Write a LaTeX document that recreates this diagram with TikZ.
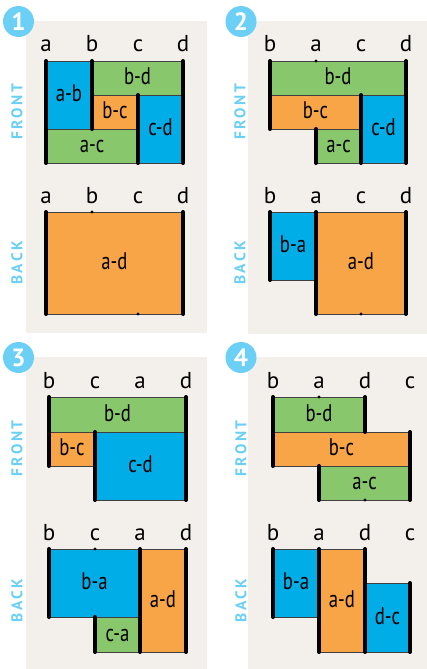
\documentclass[tikz,border=0pt]{standalone}
\usepackage{fontspec}
\setmainfont{PT Sans}
\newfontfamily\condfont[FakeStretch=0.78]{PT Sans}
\newfontfamily\tagfont[LetterSpace=16]{PT Sans Bold}
\definecolor{cblue}{HTML}{00ADE6}
\definecolor{cgreen}{HTML}{88C76C}
\definecolor{corange}{HTML}{F8A547}
\definecolor{cbeige}{HTML}{F3F0EB}
\definecolor{clight}{HTML}{6CCFF6}
\definecolor{cedge}{HTML}{404040}
\tikzset{
  boxline/.style={draw=cedge, line width=0.9pt},
  lbl/.style={anchor=base, inner sep=0pt, font=\condfont\fontsize{24}{24}\selectfont, text=black},
  collbl/.style={anchor=base, inner sep=0pt, font=\fontsize{23}{23}\selectfont, text=black},
  heavy/.style={line width=4pt, line cap=round, black},
  tagtext/.style={rotate=90, inner sep=0pt, text=clight, font=\tagfont\fontsize{15.5}{15.5}\selectfont},
  numdisc/.style={circle, fill=clight, minimum size=31pt, inner sep=0pt, text=white, font=\bfseries\fontsize{25}{25}\selectfont},
  panel/.style={fill=cbeige}
}
\newcommand\mybox[7]{%
  \draw[boxline, fill=#1] (#2,#3) rectangle (#4,#5);
  \node[lbl] (#7) at ({(#2+#4)/2},{(#3+#5)/2+6.5}) {#6};}
\newcommand\tline[3]{\draw[heavy] (#1,#2) -- (#1,#3);}
\newcommand\tmark[2]{\fill[black] (#1,#2) circle (1.6pt);}
\begin{document}
\begin{tikzpicture}[x=1pt,y=-1pt]
\useasboundingbox (0,0) rectangle (427,669);
% panels
\fill[panel] (26,21) rectangle (207,333);
\fill[panel] (248,21) rectangle (427,334);
\fill[panel] (26,357) rectangle (207,669);
\fill[panel] (248,357) rectangle (427,669);
\node[numdisc] (n1) at (18.5,21.5) {1};
\node[numdisc] (n2) at (241,21.5) {2};
\node[numdisc] (n3) at (18.5,357.5) {3};
\node[numdisc] (n4) at (241,357.5) {4};
% tags
\node[tagtext] (f1) at (17,112) {FRONT};
\node[tagtext] (b1) at (17,263) {BACK};
\node[tagtext] (f2) at (240,112) {FRONT};
\node[tagtext] (b2) at (240,263) {BACK};
\node[tagtext] (f3) at (17,448.5) {FRONT};
\node[tagtext] (b3) at (17,600.5) {BACK};
\node[tagtext] (f4) at (241,448.5) {FRONT};
\node[tagtext] (b4) at (241,600.5) {BACK};
%================ panel 1
\node[collbl] (p1fa) at (46,52) {a};
\node[collbl] (p1fb) at (92,52) {b};
\node[collbl] (p1fc) at (138,52) {c};
\node[collbl] (p1fd) at (183,52) {d};
\mybox{cblue}{46}{61}{92}{129}{a-b}{p1ab}
\mybox{cgreen}{92}{61}{183}{95}{b-d}{p1bd}
\mybox{corange}{92}{95}{138}{129}{b-c}{p1bc}
\mybox{cblue}{138}{95}{183}{163}{c-d}{p1cd}
\mybox{cgreen}{46}{129}{138}{163}{a-c}{p1ac}
\tline{46}{61}{163}
\tline{92}{61}{129}
\tline{138}{95}{163}
\tline{183}{61}{163}
\node[collbl] (p1ba) at (46,203) {a};
\node[collbl] (p1bb) at (92,203) {b};
\node[collbl] (p1bc) at (138,203) {c};
\node[collbl] (p1bdd) at (183,203) {d};
\mybox{corange}{46}{212}{183}{314}{a-d}{p1ad}
\tline{46}{212}{314}
\tline{183}{212}{314}
\tmark{92}{212}
\tmark{138}{314}
%================ panel 2
\node[collbl] (p2fb) at (270,52) {b};
\node[collbl] (p2fa) at (316,52) {a};
\node[collbl] (p2fc) at (361,52) {c};
\node[collbl] (p2fd) at (406,52) {d};
\mybox{cgreen}{270}{61}{406}{95}{b-d}{p2bd}
\mybox{corange}{270}{95}{361}{129}{b-c}{p2bc}
\mybox{cgreen}{316}{129}{361}{163}{a-c}{p2ac}
\mybox{cblue}{361}{95}{406}{163}{c-d}{p2cd}
\tline{270}{61}{129}
\tline{316}{129}{163}
\tline{361}{95}{163}
\tline{406}{61}{163}
\tmark{316}{61}
\node[collbl] (p2bb) at (270,203) {b};
\node[collbl] (p2ba) at (316,203) {a};
\node[collbl] (p2bc) at (361,203) {c};
\node[collbl] (p2bdd) at (406,203) {d};
\mybox{cblue}{270}{212}{316}{280}{b-a}{p2ba2}
\mybox{corange}{316}{212}{406}{314}{a-d}{p2ad}
\tline{270}{212}{280}
\tline{316}{212}{314}
\tline{406}{212}{314}
\tmark{361}{314}
%================ panel 3
\node[collbl] (p3fb) at (49,388) {b};
\node[collbl] (p3fc) at (95,388) {c};
\node[collbl] (p3fa) at (140,388) {a};
\node[collbl] (p3fd) at (186,388) {d};
\mybox{cgreen}{49}{397}{186}{432}{b-d}{p3bd}
\mybox{corange}{49}{432}{95}{466}{b-c}{p3bc}
\mybox{cblue}{95}{432}{186}{500}{c-d}{p3cd}
\tline{49}{397}{466}
\tline{95}{432}{500}
\tline{186}{397}{500}
\node[collbl] (p3bb) at (49,540) {b};
\node[collbl] (p3bc2) at (95,540) {c};
\node[collbl] (p3ba) at (140,540) {a};
\node[collbl] (p3bdd) at (186,540) {d};
\mybox{cblue}{49}{549}{140}{617}{b-a}{p3ba2}
\mybox{cgreen}{95}{617}{140}{652}{c-a}{p3ca}
\mybox{corange}{140}{549}{186}{652}{a-d}{p3ad}
\tline{49}{549}{617}
\tline{95}{617}{652}
\tline{140}{549}{652}
\tline{186}{549}{652}
\tmark{95}{549}
%================ panel 4
\node[collbl] (p4fb) at (273,388) {b};
\node[collbl] (p4fa) at (319,388) {a};
\node[collbl] (p4fd) at (365,388) {d};
\node[collbl] (p4fc) at (410,388) {c};
\mybox{cgreen}{273}{397}{365}{432}{b-d}{p4bd}
\mybox{corange}{273}{432}{410}{466}{b-c}{p4bc}
\mybox{cgreen}{319}{466}{410}{500}{a-c}{p4ac}
\tline{273}{397}{466}
\tline{365}{397}{432}
\tline{410}{432}{500}
\tline{319}{466}{500}
\tmark{319}{397}
\tmark{365}{500}
\node[collbl] (p4bb) at (273,540) {b};
\node[collbl] (p4ba) at (319,540) {a};
\node[collbl] (p4bdd) at (365,540) {d};
\node[collbl] (p4bc) at (410,540) {c};
\mybox{cblue}{273}{549}{319}{617}{b-a}{p4ba2}
\mybox{corange}{319}{549}{365}{652}{a-d}{p4ad}
\mybox{cblue}{365}{583}{410}{652}{d-c}{p4dc}
\tline{273}{549}{617}
\tline{319}{549}{652}
\tline{365}{549}{652}
\tline{410}{583}{652}
\end{tikzpicture}
\end{document}
